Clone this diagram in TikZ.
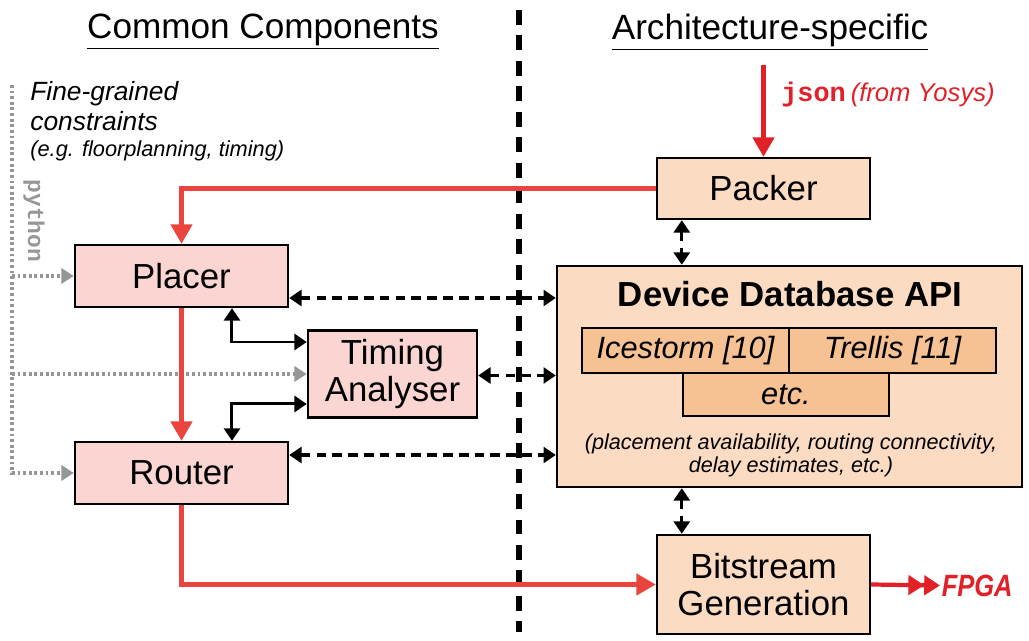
\documentclass[tikz,border=0pt]{standalone}
\usepackage{fontspec}
\setmainfont{Liberation Sans}
\setmonofont{Liberation Mono}
\usetikzlibrary{arrows.meta,calc}
\definecolor{placefill}{RGB}{250,213,209}
\definecolor{archfill}{RGB}{252,219,195}
\definecolor{backfill}{RGB}{246,194,148}
\definecolor{flowred}{RGB}{234,68,62}
\definecolor{inred}{RGB}{226,32,40}
\definecolor{pygray}{RGB}{150,150,150}
\tikzset{
  box/.style={draw=black, line width=1.4pt, inner sep=0pt, align=center,
    font=\fontsize{19.8}{21.5}\selectfont},
  common/.style={box, fill=placefill},
  arch/.style={box, fill=archfill},
  backend/.style={box, fill=backfill, font=\fontsize{17.5}{20}\selectfont\itshape},
  header/.style={font=\fontsize{20}{24}\selectfont, inner sep=0pt},
  flow/.style={draw=flowred, line width=2.4pt, -{Triangle[length=11pt,width=12pt]}},
  api/.style={draw=black, line width=1.9pt, dash pattern=on 5.5pt off 3.5pt,
    {Triangle[length=7pt,width=9pt]}-{Triangle[length=7pt,width=9pt]}},
  link/.style={draw=black, line width=1.7pt,
    {Triangle[length=7pt,width=9pt]}-{Triangle[length=7pt,width=9pt]}},
  script/.style={draw=pygray, line width=2pt, dash pattern=on 1.6pt off 1.6pt,
    -{Triangle[length=7pt,width=8.5pt,fill=pygray]}},
  divider/.style={draw=black, line width=3.5pt, dash pattern=on 8.5pt off 6pt},
}
\begin{document}
\begin{tikzpicture}[x=0.02cm,y=-0.02cm]
\useasboundingbox (0,0) rectangle (1029,641);

% column headers and the divider between them
\node[header] (hcommon) at (263,32) {\underline{Common Components}};
\node[header] (harch) at (770,32) {\underline{Architecture-specific}};
\coordinate (divtop) at (519,10);
\coordinate (divbot) at (519,632);
\draw[divider] (divtop) -- (divbot);

% common components
\node[common, minimum width=4.26cm, minimum height=1.24cm] (placer) at (181.5,276) {Placer};
\node[common, minimum width=4.26cm, minimum height=1.24cm] (router) at (181.5,473) {Router};
\node[common, minimum width=3.38cm, minimum height=1.74cm] (timing) at (392.5,374) {Timing\\Analyser};

% architecture-specific parts
\node[arch, minimum width=4.26cm, minimum height=1.22cm] (packer) at (763.5,188.5) {Packer};
\node[arch, minimum width=9.30cm, minimum height=4.42cm] (db) at (789.5,376.5) {};
\node[font=\fontsize{19.8}{22}\selectfont\bfseries, anchor=base] (dbtitle) at (790,307) {Device Database API};
\node[backend, minimum width=4.14cm, minimum height=0.90cm] (ice) at (685.5,350.5) {Icestorm [10]};
\node[backend, minimum width=4.14cm, minimum height=0.90cm] (trellis) at (892.5,350.5) {Trellis [11]};
\node[backend, minimum width=4.12cm, minimum height=0.86cm] (etc) at (786,394.5) {etc.};
\node[font=\fontsize{12.3}{13.2}\selectfont\itshape, align=center, anchor=base] (dbnote) at (791,473)
  {(placement availability, routing connectivity,\\delay estimates, etc.)};
\node[arch, minimum width=4.26cm, minimum height=1.98cm] (bit) at (763.5,584.5) {Bitstream\\Generation};

% user constraints, supplied from python
\node[font=\fontsize{15}{17}\selectfont\itshape, anchor=base west, inner sep=0pt] (fg1) at (30,101) {Fine-grained};
\node[font=\fontsize{15}{17}\selectfont\itshape, anchor=base west, inner sep=0pt] (fg2) at (30,131) {constraints};
\node[font=\fontsize{12.4}{14}\selectfont\itshape, anchor=base west, inner sep=0pt] (fg3) at (30,157) {(e.g. floorplanning, timing)};
\node[font=\fontsize{13}{15}\selectfont\ttfamily\bfseries, text=pygray, rotate=-90, inner sep=0pt] (py) at (34,221) {python};
\coordinate (pytop) at (12,85);
\draw[script] (pytop) |- (router.west);
\draw[script] (pytop |- placer.west) -- (placer.west);
\draw[script] (pytop |- timing.west) -- (timing.west);

% main flow
\coordinate (jsonsrc) at (763.5,65);
\draw[flow, draw=inred, -{Triangle[length=11pt,width=12pt,fill=inred]}] (jsonsrc) -- (packer.north);
\node[anchor=base west, inner sep=0pt, text=inred] (json) at (781,102)
  {{\fontsize{15.3}{17}\selectfont\ttfamily\bfseries json} {\fontsize{14.6}{17}\selectfont\itshape (from Yosys)}};
\draw[flow] (packer.west) -| (placer.north);
\draw[flow] (placer.south) -- (router.north);
\draw[flow] (router.south) |- (bit.west);
\node[anchor=west, inner sep=1pt, xscale=0.83, text=inred, font=\fontsize{17.5}{20}\selectfont\bfseries\itshape] (fpga) at (940,585.5) {FPGA};
\draw[draw=inred, line width=2.4pt, -{Triangle[length=9pt,width=11pt]Triangle[length=9pt,width=11pt]}] (bit.east) -- (fpga.west);

% timing analyser links
\draw[link] ([xshift=1.01cm]placer.south) |- ([yshift=0.64cm]timing.west);
\draw[link] ([xshift=1.01cm]router.north) |- ([yshift=-0.6cm]timing.west);

% device database queries
\draw[api] ([xshift=0.52cm]packer.south west) -- ([xshift=0.52cm]packer.south west |- db.north);
\draw[api] ([yshift=-0.44cm]placer.east) -- ([yshift=-0.44cm]placer.east -| db.west);
\draw[api] ([yshift=-0.03cm]timing.east) -- ([yshift=-0.03cm]timing.east -| db.west);
\draw[api] ([yshift=0.36cm]router.east) -- ([yshift=0.36cm]router.east -| db.west);
\draw[api] ([xshift=0.52cm]bit.north west |- db.south) -- ([xshift=0.52cm]bit.north west);
\end{tikzpicture}
\end{document}
